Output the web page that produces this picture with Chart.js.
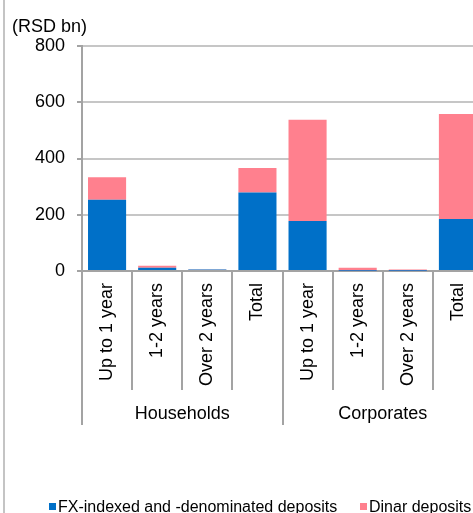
<!DOCTYPE html>
<html>
<head>
<meta charset="utf-8">
<script src="https://cdn.jsdelivr.net/npm/chart.js@4/dist/chart.umd.min.js"></script>
<style>
  html, body { margin: 0; padding: 0; background: #fff; overflow: hidden; }
  #wrap { position: absolute; left: 0; top: 0; width: 490px; height: 513px; }
</style>
</head>
<body>
<div id="wrap"><canvas id="grafica" width="490" height="513"></canvas></div>
<script>
const categorias = ["Up to 1 year", "1-2 years", "Over 2 years", "Total",
                    "Up to 1 year", "1-2 years", "Over 2 years", "Total"];
const grupos = ["Households", "Corporates"];
const depositosFx = [253, 12, 5, 279, 178, 1, 1, 185];
const depositosDinar = [80, 7, 1, 87, 360, 11, 4, 373];
const ticksY = [0, 200, 400, 600, 800];

const fuente = "'Liberation Sans', Arial, sans-serif";
const gris = "#a3a3a3";

// texts outside the plot: unit, group labels, legend, frame line
const extras = {
  id: "extras",
  beforeDraw(chart) {
    const c = chart.ctx;
    c.save();
    c.fillStyle = "#c4c4c4";
    c.fillRect(3, 0, 2, chart.height);
    c.restore();
  },
  afterDraw(chart) {
    const c = chart.ctx;
    const x = chart.scales.x;
    const area = chart.chartArea;
    c.save();
    c.fillStyle = "#000";
    c.font = "18px " + fuente;
    c.textBaseline = "alphabetic";
    c.textAlign = "left";
    c.fillText("(RSD bn)", 12, 32);

    // group separators and labels
    const mitad = categorias.length / 2;
    const paso = x.getPixelForValue(1) - x.getPixelForValue(0);
    const bordes = [0, mitad, categorias.length].map(i => x.getPixelForValue(i) - paso / 2);
    c.strokeStyle = gris;
    c.lineWidth = 2;
    bordes.forEach(b => {
      c.beginPath();
      c.moveTo(Math.round(b), area.bottom);
      c.lineTo(Math.round(b), 425);
      c.stroke();
    });
    c.textAlign = "center";
    c.textBaseline = "middle";
    grupos.forEach((g, i) => {
      c.fillText(g, (bordes[i] + bordes[i + 1]) / 2, 414);
    });

    // legend
    c.font = "16px " + fuente;
    c.textAlign = "left";
    c.textBaseline = "alphabetic";
    const leyenda = [[49, 0], [360, 1]];
    leyenda.forEach(([lx, i]) => {
      const ds = chart.data.datasets[i];
      c.fillStyle = ds.backgroundColor;
      c.fillRect(lx, 503, 7, 7);
      c.fillStyle = "#000";
      c.fillText(ds.label, lx + 9, 512);
    });
    c.restore();
  }
};

new Chart(document.getElementById("grafica"), {
  type: "bar",
  data: {
    labels: categorias,
    datasets: [
      { label: "FX-indexed and -denominated deposits", data: depositosFx, backgroundColor: "#0070c8" },
      { label: "Dinar deposits", data: depositosDinar, backgroundColor: "#ff808e" }
    ]
  },
  options: {
    responsive: false,
    animation: false,
    barPercentage: 0.76,
    categoryPercentage: 1,
    layout: { padding: { top: 46, right: 7, bottom: 0, left: 0 } },
    plugins: {
      legend: { display: false },
      tooltip: { enabled: false }
    },
    scales: {
      x: {
        stacked: true,
        offset: true,
        afterFit: s => { s.height = 242; },
        grid: {
          offset: true,
          drawOnChartArea: false,
          drawTicks: true,
          tickLength: 119,
          color: gris,
          lineWidth: 2,
          tickColor: gris,
          tickWidth: 2
        },
        border: { color: gris, width: 2 },
        ticks: {
          autoSkip: false,
          minRotation: 90,
          maxRotation: 90,
          padding: -107,
          color: "#000",
          font: { family: fuente, size: 18 }
        }
      },
      y: {
        stacked: true,
        min: 0,
        max: 800,
        afterFit: s => { s.width = 82; },
        afterBuildTicks: s => { s.ticks = ticksY.map(v => ({ value: v })); },
        grid: {
          color: "#c6c6c6",
          lineWidth: 2,
          tickColor: gris,
          tickLength: 5,
          tickWidth: 2
        },
        border: { color: gris, width: 2 },
        ticks: {
          padding: 12,
          color: "#000",
          font: { family: fuente, size: 18 }
        }
      }
    }
  },
  plugins: [extras]
});
</script>
</body>
</html>
